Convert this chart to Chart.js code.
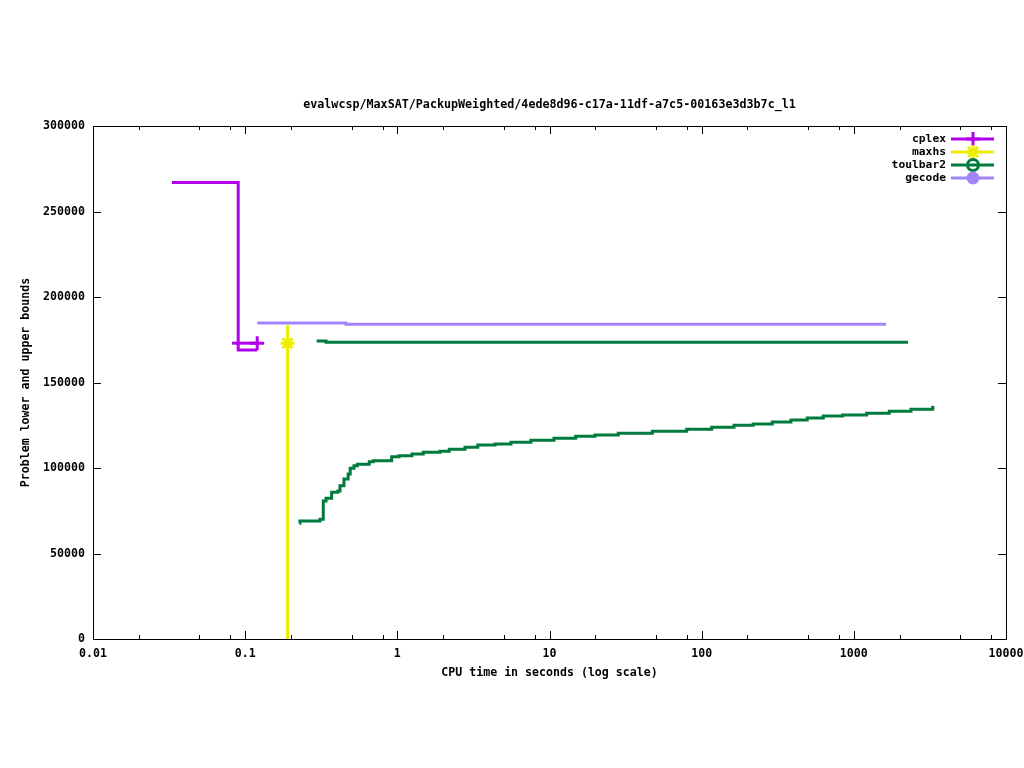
<!DOCTYPE html>
<html>
<head>
<meta charset="utf-8">
<script src="https://cdn.jsdelivr.net/npm/chart.js@4.4.1/dist/chart.umd.min.js"></script>
<style>
  html, body { margin: 0; padding: 0; background: #fff; overflow: hidden; width: 1024px; height: 768px; }
  canvas { display: block; }
</style>
</head>
<body>
<canvas id="grafico" width="1050" height="768"></canvas>
<script>
// ==================== DATOS ====================

const titulo = 'evalwcsp/MaxSAT/PackupWeighted/4ede8d96-c17a-11df-a7c5-00163e3d3b7c_l1';
const xTicks = [0.01, 0.1, 1, 10, 100, 1000, 10000];
const yTicks = [0, 50000, 100000, 150000, 200000, 250000, 300000];

// cplex
const cplexUpperT = [0.033, 0.09, 0.12];
const cplexUpperV = [267000, 169000, 169000];
const cplexLowerT = [0.082, 0.12];
const cplexLowerV = [173000, 173000];
const cplexMarkT = [0.12];
const cplexMarkV = [173000];

// maxhs
const maxhsT = [0.19, 0.19];
const maxhsV = [0, 183500];
const maxhsMarkT = [0.19];
const maxhsMarkV = [173000];

// toulbar2
const tbUpperT = [0.295, 0.34, 2270];
const tbUpperV = [174300, 173500, 173500];
const tbLowerT = [0.227, 0.229, 0.310, 0.326, 0.340, 0.370, 0.407, 0.420, 0.446, 0.475, 0.49,
  0.519, 0.546, 0.654, 0.695, 0.918, 1.025, 1.248, 1.481, 1.907, 2.195, 2.783, 3.375, 4.384,
  5.585, 7.55, 10.7, 14.86, 19.9, 28.3, 47.4, 79.7, 116.4, 163.1, 218.3, 291, 386, 494, 630,
  845, 1215, 1710, 2374, 3297, 3310];
const tbLowerV = [67700, 69000, 70000, 80700, 82300, 85800, 86500, 89600, 93600, 96500, 99800,
  101300, 102200, 103700, 104300, 106600, 107200, 108200, 109200, 109800, 110900, 112100, 113500, 114000,
  115000, 116200, 117400, 118500, 119300, 120300, 121500, 122600, 123800, 125000, 125700, 126900, 128100, 129200, 130400,
  131000, 132000, 133200, 134300, 135500, 136200];

// gecode
const gecodeT = [0.12, 0.46, 1626];
const gecodeV = [184800, 184000, 184000];

const colores = {
    cplex: '#b000ec',
    maxhs: '#eded00',
    toulbar2: '#007a3d',
    gecode: '#a285fa'
};

const FUENTE_TITULO = 'bold 11.7px "DejaVu Sans Mono"';
const FUENTE_LEYENDA = 'bold 11.3px "DejaVu Sans Mono"';

// ==================== UTILIDADES ====================

function puntos(ts, vs) {
    return ts.map((t, i) => ({ x: t, y: vs[i] }));
}

function serieLinea(label, ts, vs, color) {
    return {
        label: label,
        data: puntos(ts, vs),
        borderColor: color,
        backgroundColor: color,
        borderWidth: 3,
        stepped: true,
        showLine: true,
        pointRadius: 0,
        fill: false
    };
}

function serieMarca(label, ts, vs, color, estilo, radio) {
    return {
        label: label,
        data: puntos(ts, vs),
        borderColor: color,
        backgroundColor: color,
        showLine: false,
        pointStyle: estilo,
        pointRadius: radio,
        pointBorderWidth: 3
    };
}

function dibujarMarca(ctx, tipo, x, y, color) {
    ctx.save();
    ctx.strokeStyle = color;
    ctx.fillStyle = color;
    ctx.lineWidth = 3;
    ctx.beginPath();
    if (tipo === 'plus') {
        ctx.moveTo(x - 7, y); ctx.lineTo(x + 7, y);
        ctx.moveTo(x, y - 7); ctx.lineTo(x, y + 7);
        ctx.stroke();
    } else if (tipo === 'star') {
        ctx.moveTo(x - 7, y); ctx.lineTo(x + 7, y);
        ctx.moveTo(x, y - 7); ctx.lineTo(x, y + 7);
        ctx.moveTo(x - 5, y - 5); ctx.lineTo(x + 5, y + 5);
        ctx.moveTo(x - 5, y + 5); ctx.lineTo(x + 5, y - 5);
        ctx.stroke();
    } else if (tipo === 'ring') {
        ctx.arc(x, y, 5.5, 0, Math.PI * 2);
        ctx.stroke();
    } else {
        ctx.arc(x, y, 6.5, 0, Math.PI * 2);
        ctx.fill();
    }
    ctx.restore();
}

// ==================== MARCO, MARCAS, TÍTULO Y LEYENDA ====================

const marcoPlugin = {
    id: 'marco',
    afterDatasetsDraw(chart) {
        const { ctx, chartArea: a, scales } = chart;
        const x = scales.x, y = scales.y;
        ctx.save();
        ctx.strokeStyle = '#000';
        ctx.lineWidth = 1;
        ctx.strokeRect(Math.round(a.left) + 0.5, Math.round(a.top) + 0.5,
            Math.round(a.right - a.left), Math.round(a.bottom - a.top));
        ctx.beginPath();
        yTicks.forEach(v => {
            const py = Math.round(y.getPixelForValue(v)) + 0.5;
            ctx.moveTo(a.left, py); ctx.lineTo(a.left + 8, py);
            ctx.moveTo(a.right, py); ctx.lineTo(a.right - 8, py);
        });
        xTicks.forEach((v, i) => {
            const px = Math.round(x.getPixelForValue(v)) + 0.5;
            ctx.moveTo(px, a.bottom); ctx.lineTo(px, a.bottom - 8);
            ctx.moveTo(px, a.top); ctx.lineTo(px, a.top + 8);
            if (i < xTicks.length - 1) {
                [2, 5, 8].forEach(m => {
                    const pm = Math.round(x.getPixelForValue(v * m)) + 0.5;
                    ctx.moveTo(pm, a.bottom); ctx.lineTo(pm, a.bottom - 4);
                    ctx.moveTo(pm, a.top); ctx.lineTo(pm, a.top + 4);
                });
            }
        });
        ctx.stroke();

        // título centrado sobre el área del gráfico
        ctx.font = FUENTE_TITULO;
        ctx.fillStyle = '#000';
        ctx.textAlign = 'center';
        ctx.textBaseline = 'middle';
        ctx.fillText(titulo, (a.left + a.right) / 2, 105);

        // leyenda
        const items = [
            ['cplex', colores.cplex, 'plus'],
            ['maxhs', colores.maxhs, 'star'],
            ['toulbar2', colores.toulbar2, 'ring'],
            ['gecode', colores.gecode, 'dot']
        ];
        ctx.font = FUENTE_LEYENDA;
        ctx.textAlign = 'right';
        items.forEach((it, i) => {
            const ly = 139 + i * 13;
            ctx.fillStyle = '#000';
            ctx.fillText(it[0], 946, ly);
            ctx.strokeStyle = it[1];
            ctx.lineWidth = 3;
            ctx.beginPath();
            ctx.moveTo(951, ly); ctx.lineTo(994, ly);
            ctx.stroke();
            dibujarMarca(ctx, it[2], 973, ly, it[1]);
        });
        ctx.restore();
    }
};

// ==================== GRÁFICO ====================

Chart.defaults.font.family = '"DejaVu Sans Mono", monospace';
Chart.defaults.font.size = 11.6;
Chart.defaults.font.weight = 'bold';
Chart.defaults.color = '#000';

new Chart(document.getElementById('grafico'), {
    type: 'scatter',
    data: {
        datasets: [
            serieLinea('cplex', cplexUpperT, cplexUpperV, colores.cplex),
            serieLinea('cplex lb', cplexLowerT, cplexLowerV, colores.cplex),
            serieMarca('cplex m', cplexMarkT, cplexMarkV, colores.cplex, 'cross', 7),
            serieLinea('maxhs', maxhsT, maxhsV, colores.maxhs),
            serieMarca('maxhs m', maxhsMarkT, maxhsMarkV, colores.maxhs, 'star', 7),
            serieLinea('toulbar2', tbUpperT, tbUpperV, colores.toulbar2),
            serieLinea('toulbar2 lb', tbLowerT, tbLowerV, colores.toulbar2),
            serieLinea('gecode', gecodeT, gecodeV, colores.gecode)
        ]
    },
    options: {
        responsive: false,
        animation: false,
        devicePixelRatio: 1,
        layout: { padding: { left: 0, right: 44, top: 126, bottom: 0 } },
        plugins: {
            legend: { display: false },
            tooltip: { enabled: false },
            title: { display: false }
        },
        scales: {
            x: {
                type: 'logarithmic',
                min: 0.01,
                max: 10000,
                grid: { display: false, drawTicks: false },
                border: { display: false },
                afterBuildTicks: s => { s.ticks = xTicks.map(v => ({ value: v })); },
                afterFit: s => { s.height = 129; },
                ticks: {
                    padding: 8,
                    maxRotation: 0,
                    autoSkip: false,
                    callback: v => String(v)
                },
                title: {
                    display: true,
                    text: 'CPU time in seconds (log scale)',
                    padding: { top: 0, bottom: 88 }
                }
            },
            y: {
                min: 0,
                max: 300000,
                grid: { display: false, drawTicks: false },
                border: { display: false },
                afterBuildTicks: s => { s.ticks = yTicks.map(v => ({ value: v })); },
                afterFit: s => { s.width = 93; },
                ticks: {
                    padding: 8,
                    callback: v => String(v)
                },
                title: {
                    display: true,
                    text: 'Problem lower and upper bounds',
                    padding: { top: 19, bottom: 0 }
                }
            }
        }
    },
    plugins: [marcoPlugin]
});
</script>
</body>
</html>
